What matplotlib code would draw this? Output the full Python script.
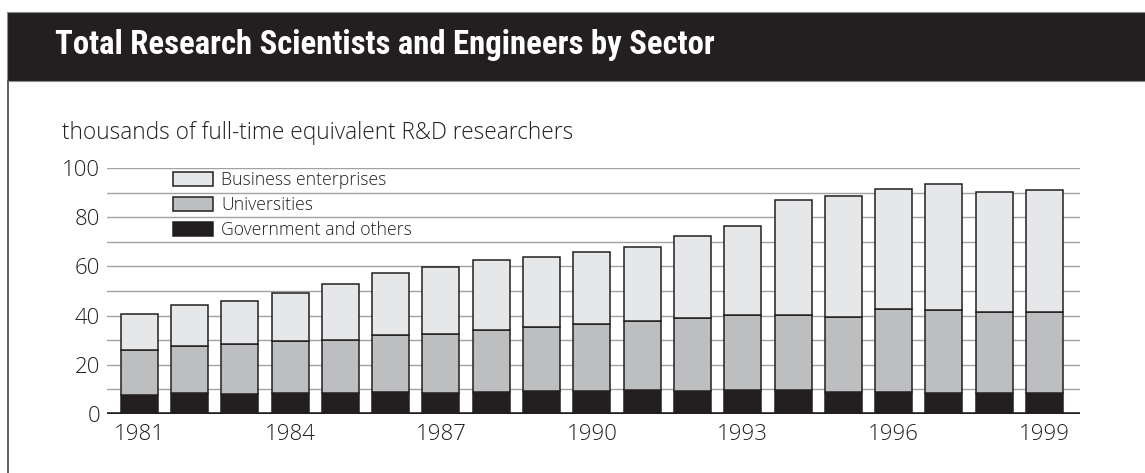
import matplotlib
matplotlib.use("Agg")
import matplotlib.pyplot as plt
from matplotlib import font_manager
from matplotlib.patches import Rectangle
from matplotlib.lines import Line2D

# ---- data (thousands of FTE researchers) ----
years = list(range(1981, 2000))
government = [7.7, 8.5, 8.3, 8.5, 8.5, 9.1, 8.5, 9.1, 9.4, 9.4,
              9.6, 9.4, 9.8, 9.6, 9.1, 8.8, 8.5, 8.5, 8.5]
universities = [18.2, 19.2, 20.1, 21.1, 21.5, 23.1, 24.1, 25.0, 26.0, 27.0,
                28.3, 29.7, 30.6, 30.6, 30.4, 33.9, 33.6, 32.9, 32.9]
business = [14.8, 16.8, 17.5, 19.5, 22.8, 25.3, 27.1, 28.5, 28.6, 29.4,
            30.1, 33.1, 36.0, 46.6, 49.0, 48.9, 51.4, 48.8, 49.5]
series_labels = ["Business enterprises", "Universities", "Government and others"]
xtick_years = [1981, 1984, 1987, 1990, 1993, 1996, 1999]
yticks = [0, 20, 40, 60, 80, 100]
title = "Total Research Scientists and Engineers by Sector"
subtitle = "thousands of full-time equivalent R&D researchers"

# ---- style ----
DARK = "#231f20"
C_BUS = "#e6e7e8"
C_UNI = "#bcbec0"
C_GOV = "#231f20"
GRID = "#a0a2a5"
LIGHT_FONT = ["Open Sans", "DejaVu Sans"]


def first_font(cands):
    for c in cands:
        try:
            font_manager.findfont(font_manager.FontProperties(family=c),
                                  fallback_to_default=False)
            return c
        except Exception:
            continue
    return "DejaVu Sans"


TITLE_FONT = first_font(["Roboto Condensed", "Liberation Sans Narrow",
                         "Open Sans Condensed", "Roboto", "Lato"])

W, H = 1145, 473
fig = plt.figure(figsize=(W / 100, H / 100), dpi=100)
fig.patch.set_facecolor("white")


def fx(px):
    return px / W


def fy(py):
    return 1 - py / H


# title bar
fig.add_artist(Rectangle((fx(7), fy(81)), fx(W - 7) + 0.01, (81 - 12) / H,
                         transform=fig.transFigure, facecolor=DARK,
                         edgecolor="#8d8d8d", lw=0.8))
fig.add_artist(Line2D([fx(7.5), fx(7.5)], [fy(81), 0], transform=fig.transFigure,
                      color="#555555", lw=1.3))
ttl = fig.text(fx(55), fy(45), title, color="white", fontsize=22, fontweight="bold",
               family=[TITLE_FONT, "DejaVu Sans"], va="center", ha="left")
renderer = fig.canvas.get_renderer()
tw = ttl.get_window_extent(renderer).width
ttl.set_fontsize(min(24, 22 * 660.0 / tw))

fig.text(fx(62), fy(133), subtitle, color=DARK, fontsize=16.3, fontweight="light",
         family=LIGHT_FONT, va="center", ha="left")

# axes: value 100 at y=168, 0 at y=414; x from 107 to 1080
ax = fig.add_axes([fx(107), fy(414), fx(1080 - 107), (414 - 168) / H])
ax.set_xlim(1981 - 0.64, 1999 + 0.706)
ax.set_ylim(0, 100)
for s in ax.spines.values():
    s.set_visible(False)
ax.set_facecolor("none")

for g in range(10, 101, 10):
    ax.axhline(g, color=GRID, lw=1.0, zorder=0)

bw = 0.735
bottoms_uni = government
bottoms_bus = [g + u for g, u in zip(government, universities)]
b_gov = ax.bar(years, government, width=bw, color=C_GOV, edgecolor=DARK, lw=1.1, zorder=2)
b_uni = ax.bar(years, universities, bottom=bottoms_uni, width=bw, color=C_UNI,
               edgecolor=DARK, lw=1.1, zorder=2)
b_bus = ax.bar(years, business, bottom=bottoms_bus, width=bw, color=C_BUS,
               edgecolor=DARK, lw=1.1, zorder=2)
ax.axhline(0, color=DARK, lw=2.6, zorder=3)

ax.set_xticks(xtick_years)
ax.set_xticklabels([str(y) for y in xtick_years], fontsize=16, fontweight="light",
                   family=LIGHT_FONT, color=DARK)
ax.set_yticks(yticks)
ax.set_yticklabels([str(v) for v in yticks], fontsize=16, fontweight="light",
                   family=LIGHT_FONT, color=DARK)
ax.tick_params(axis="both", length=0)
ax.tick_params(axis="x", pad=7)
ax.tick_params(axis="y", pad=5)

leg = ax.legend([b_bus, b_uni, b_gov], series_labels, loc="upper left",
                bbox_to_anchor=(fx(173), fy(171)), bbox_transform=fig.transFigure,
                frameon=False, prop={"family": LIGHT_FONT, "size": 12.7, "weight": "light"},
                handlelength=40 / 17.6, handleheight=15 / 17.6, handletextpad=0.45,
                labelspacing=0.4, borderpad=0, borderaxespad=0)
for t in leg.get_texts():
    t.set_color(DARK)

fig.savefig("out.png", dpi=100)
